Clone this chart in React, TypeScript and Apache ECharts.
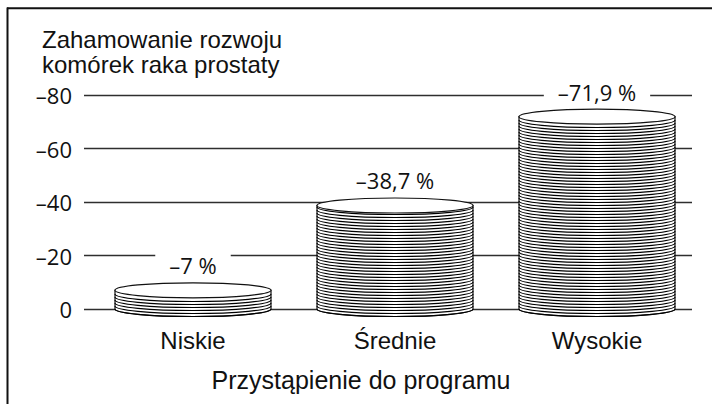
import React, { useEffect, useRef } from 'react';
import * as echarts from 'echarts';

const categories = ['Niskie', 'Średnie', 'Wysokie'];
const values = [-7, -38.7, -71.9];
const yTickMin = -80;
const yTickMax = 0;
const yTickStep = 20;
const titleLines = ['Zahamowanie rozwoju', 'komórek raka prostaty'];
const xAxisTitle = 'Przystąpienie do programu';

const INK = '#111';

function fmtLabel(v: number): string {
  return '–' + String(Math.abs(v)).replace('.', ',') + ' %';
}
function fmtTick(v: number): string {
  return v === 0 ? '0' : '–' + Math.abs(v);
}

export default function App() {
  const ref = useRef<HTMLDivElement>(null);
  useEffect(() => {
    if (!ref.current) return;
    const chart = echarts.init(ref.current, undefined, { renderer: 'svg' });
    const titleTexts = titleLines.map((t, i) => ({
      type: 'text', x: 42, y: 39.2 + i * 25,
      style: {
        text: t, fontSize: 24, fontFamily: 'Liberation Sans', fill: INK,
        align: 'left', textAlign: 'left', verticalAlign: 'middle', textVerticalAlign: 'middle',
      },
    }));
    const option: any = {
      animation: false,
      backgroundColor: '#fff',
      graphic: [
        { type: 'line', shape: { x1: 7.5, y1: 7.5, x2: 7.5, y2: 404 }, style: { stroke: INK, lineWidth: 2 } },
        { type: 'line', shape: { x1: 7, y1: 8.3, x2: 712, y2: 8.3 }, style: { stroke: INK, lineWidth: 2 } },
        ...titleTexts,
        {
          type: 'text', x: 361, y: 380,
          style: {
            text: xAxisTitle, fontSize: 25, fontFamily: 'Liberation Sans', fill: INK,
            align: 'center', textAlign: 'center', verticalAlign: 'middle', textVerticalAlign: 'middle',
          },
        },
      ],
      grid: [
        { left: 92, right: 14, top: 95, bottom: 95 },
        { left: 84, right: 20, top: 95, bottom: 95 },
      ],
      xAxis: [
        {
          gridIndex: 0, type: 'category', data: categories,
          axisLine: { show: false }, axisTick: { show: false }, splitLine: { show: false },
          axisLabel: { fontSize: 24, fontFamily: 'Liberation Sans', color: INK, margin: 19 },
        },
        { gridIndex: 1, type: 'value', min: 0, max: 1, show: false },
      ],
      yAxis: [
        { gridIndex: 0, type: 'value', min: yTickMin, max: yTickMax, inverse: true, show: false },
        {
          gridIndex: 1, type: 'value', min: yTickMin, max: yTickMax, interval: yTickStep, inverse: true,
          axisLine: { show: false }, axisTick: { show: false },
          axisLabel: { formatter: fmtTick, fontSize: 22, fontFamily: 'Open Sans', color: INK, margin: 12 },
          splitLine: { show: true, lineStyle: { color: '#2e2e2e', width: 1.3 } },
        },
      ],
      series: [
        {
          type: 'custom',
          xAxisIndex: 0, yAxisIndex: 0,
          data: values.map((v, i) => [i, v]),
          renderItem: (params: any, api: any) => {
            const idx = api.value(0);
            const v = api.value(1);
            const base = api.coord([idx, 0]);
            const top = api.coord([idx, v]);
            const cx = base[0];
            const y0 = base[1];
            const yT = top[1];
            const hw = 78;
            const ry = 7.5;
            const gap = 3;
            const L = cx - hw;
            const R = cx + hw;
            const children: any[] = [];
            children.push({
              type: 'path',
              shape: { pathData: `M${L} ${yT} L${L} ${y0} A${hw} ${ry} 0 0 0 ${R} ${y0} L${R} ${yT} Z` },
              style: { fill: '#fff', stroke: INK, lineWidth: 1.2 },
            });
            let d = '';
            for (let y = y0; y > yT + 1; y -= gap) {
              d += `M${L} ${y} A${hw} ${ry} 0 0 0 ${R} ${y} `;
            }
            children.push({
              type: 'path',
              shape: { pathData: d },
              style: { fill: 'none', stroke: '#000', lineWidth: 1.15 },
            });
            children.push({
              type: 'ellipse',
              shape: { cx, cy: yT, rx: hw, ry },
              style: { fill: '#fff', stroke: INK, lineWidth: 1.2 },
            });
            children.push({
              type: 'text',
              x: cx, y: yT - 25,
              style: {
                text: fmtLabel(v), fontSize: 22, fontFamily: 'Open Sans', fill: INK,
                align: 'center', verticalAlign: 'middle',
                backgroundColor: '#fff', padding: [5, 14, 3, 14],
              },
            });
            return { type: 'group', children };
          },
        },
      ],
    };
    chart.setOption(option);
    return () => chart.dispose();
  }, []);
  return <div ref={ref} style={{ position: 'absolute', left: 0, top: 0, width: 712, height: 404 }} />;
}
